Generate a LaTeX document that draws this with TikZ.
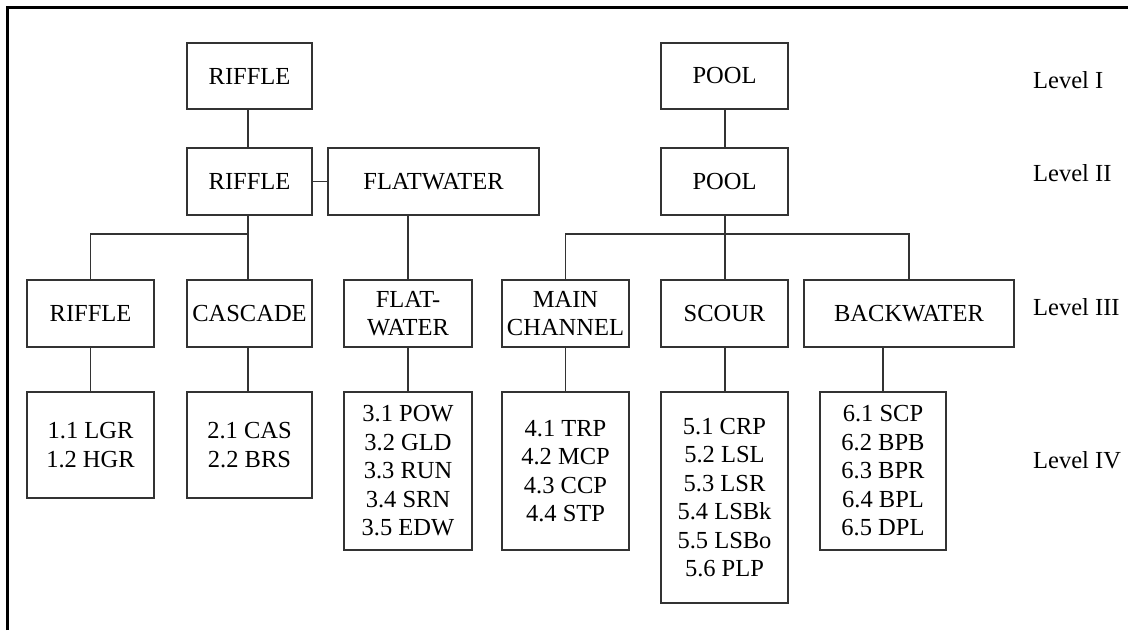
\documentclass[tikz,border=0pt]{standalone}
\usepackage{fontspec}
\setmainfont{Liberation Serif}
\begin{document}
\begin{tikzpicture}[x=1pt,y=-1pt,
  box/.style={draw=black!80, line width=1.4pt, inner sep=0pt, align=center, font=\fontsize{24.5}{28.5}\selectfont},
  lvl/.style={anchor=west, inner sep=0pt, font=\fontsize{24.5}{28.5}\selectfont},
  link/.style={draw=black!80, line width=1.4pt}]
\useasboundingbox (0,0) rectangle (1128,630);
\fill[white] (0,0) rectangle (1128,630);
% frame
\coordinate (ftl) at (7.5,7.5);
\coordinate (ftr) at (1128,7.5);
\coordinate (fbl) at (7.5,630);
\draw[line width=2.6pt] (fbl) -- (ftl) -- (ftr);
% level I
\node[box, minimum width=125pt, minimum height=66pt] (r1) at (249.5,76) {RIFFLE};
\node[box, minimum width=127pt, minimum height=66pt] (p1) at (724.5,76) {POOL};
% level II
\node[box, minimum width=125pt, minimum height=67pt] (r2) at (249.5,181.5) {RIFFLE};
\node[box, minimum width=211pt, minimum height=67pt] (fw2) at (433.5,181.5) {FLATWATER};
\node[box, minimum width=127pt, minimum height=67pt] (p2) at (724.5,181.5) {POOL};
% level III
\node[box, minimum width=127pt, minimum height=67pt] (r3) at (90.5,313.5) {RIFFLE};
\node[box, minimum width=125pt, minimum height=67pt] (c3) at (249.5,313.5) {CASCADE};
\node[box, minimum width=128pt, minimum height=67pt] (fw3) at (408,313.5) {FLAT-\\WATER};
\node[box, minimum width=127pt, minimum height=67pt] (mc3) at (565.5,313.5) {MAIN\\CHANNEL};
\node[box, minimum width=127pt, minimum height=67pt] (s3) at (724.5,313.5) {SCOUR};
\node[box, minimum width=210pt, minimum height=67pt] (b3) at (909,313.5) {BACKWATER};
% level IV
\node[box, minimum width=127pt, minimum height=106pt] (r4) at (90.5,445) {1.1 LGR\\1.2 HGR};
\node[box, minimum width=125pt, minimum height=106pt] (c4) at (249.5,445) {2.1 CAS\\2.2 BRS};
\node[box, minimum width=128pt, minimum height=158pt] (fw4) at (408,471) {3.1 POW\\3.2 GLD\\3.3 RUN\\3.4 SRN\\3.5 EDW};
\node[box, minimum width=127pt, minimum height=158pt] (mc4) at (565.5,471) {4.1 TRP\\4.2 MCP\\4.3 CCP\\4.4 STP};
\node[box, minimum width=127pt, minimum height=211pt] (s4) at (724.5,497.5) {5.1 CRP\\5.2 LSL\\5.3 LSR\\5.4 LSBk\\5.5 LSBo\\5.6 PLP};
\node[box, minimum width=126pt, minimum height=158pt] (b4) at (883,471) {6.1 SCP\\6.2 BPB\\6.3 BPR\\6.4 BPL\\6.5 DPL};
% level labels
\node[lvl] (l1) at (1033,80) {Level I};
\node[lvl] (l2) at (1033,173) {Level II};
\node[lvl] (l3) at (1033,307) {Level III};
\node[lvl] (l4) at (1033,460) {Level IV};
% connectors
\coordinate (lb) at (248,234);
\coordinate (pb) at (725,234);
\draw[link] (r1.south -| lb) -- (r2.north -| lb);
\draw[link] (p1.south -| pb) -- (p2.north -| pb);
\draw[link] (r2.east) -- (fw2.west);
\draw[link] (r2.south -| lb) -- (c3.north -| lb);
\draw[link] (r3.north) -- (r3.north |- lb) -- (lb);
\draw[link] (fw2.south -| fw3.north) -- (fw3.north);
\draw[link] (p2.south -| pb) -- (s3.north -| pb);
\draw[link] (mc3.north) -- (mc3.north |- pb) -- (b3.north |- pb) -- (b3.north);
\draw[link] (r3.south) -- (r4.north);
\draw[link] (c3.south -| lb) -- (c4.north -| lb);
\draw[link] (fw3.south) -- (fw4.north);
\draw[link] (mc3.south) -- (mc4.north);
\draw[link] (s3.south -| pb) -- (s4.north -| pb);
\draw[link] (b3.south -| b4.north) -- (b4.north);
\end{tikzpicture}
\end{document}
